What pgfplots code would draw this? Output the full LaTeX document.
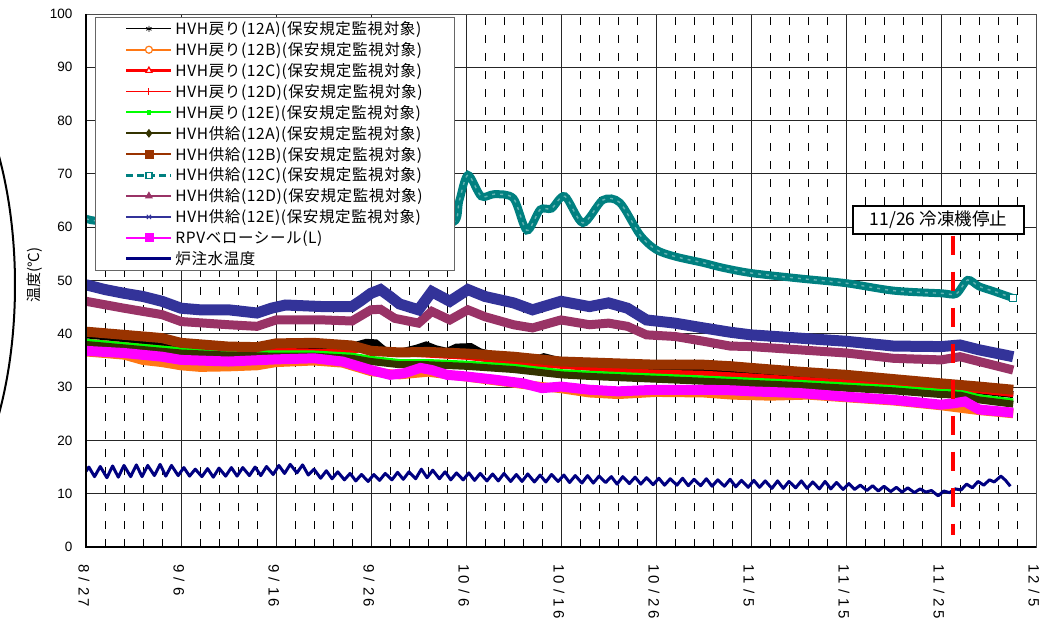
\documentclass[border=0pt]{standalone}
\usepackage{pgfplots}
\pgfplotsset{compat=1.18}
\usepackage{pgfplotstable}
\usepackage{fontspec}
\setmainfont{Liberation Sans}
\newfontfamily\cjk{Noto Sans CJK JP}
\newfontfamily\cjkleg[LetterSpace=4]{Noto Sans CJK JP}

\definecolor{cOrange}{RGB}{255,120,20}
\definecolor{cGreen}{RGB}{0,255,0}
\definecolor{cOlive}{RGB}{51,51,0}
\definecolor{cBrown}{RGB}{153,51,0}
\definecolor{cTeal}{RGB}{0,128,128}
\definecolor{cPlum}{RGB}{153,51,102}
\definecolor{cBlue}{RGB}{51,51,153}
\definecolor{cPink}{RGB}{255,0,255}
\definecolor{cNavy}{RGB}{0,0,128}

% date labels: every character in a box of the same width
\makeatletter
\def\spc#1{\spc@#1\@nil}
\def\spc@#1{\ifx#1\@nil\else\makebox[11.5bp]{#1}\expandafter\spc@\fi}
\makeatother

\newcommand\legline[3]{\draw[#1] (0bp,0bp) -- (45bp,0bp);
  \draw[solid,line width=0.8bp,#2] plot[only marks,mark=#3] coordinates {(22.5bp,0bp)};}

% HVH供給(12C)
\pgfplotstableread{
d v
0 61.6
1 61.2
5 60.5
10 60.0
15 60.2
20 61.0
25 61.2
30 62.0
35 61.8
38.7 61.0
39.3 65.0
40.2 69.8
41.6 65.8
43 66.2
45 65.4
46.4 59.4
47.8 63.3
49 63.5
50.4 65.8
52.3 60.8
54.4 65.1
56.2 64.6
58.3 58.6
60 55.8
62 54.5
65 53.3
67 52.4
70 51.4
75 50.4
80 49.5
85 48.1
90 47.6
91.6 47.5
92.8 50.1
94 48.9
95.5 48.0
97.6 46.7
}\tealdata

\begin{document}
\begin{tikzpicture}
\begin{axis}[
    at={(0,0)}, anchor=south west,
    scale only axis, width=950bp, height=533bp,
    xmin=0, xmax=100, ymin=0, ymax=100,
    xtick={0,10,...,100},
    xticklabels={\spc{8/27},\spc{9/6},\spc{9/16},\spc{9/26},\spc{10/6},\spc{10/16},\spc{10/26},\spc{11/5},\spc{11/15},\spc{11/25},\spc{12/5}},
    minor x tick num=4,
    ytick={0,10,...,100},
    grid=both,
    major grid style={black!85, line width=0.8bp},
    minor grid style={black, line width=0.8bp, dash pattern=on 8bp off 10bp},
    major tick length=0pt, minor tick length=0pt,
    axis line style={black!70, line width=0.8bp},
    /pgf/number format/assume math mode=true,
    yticklabel style={font=\fontsize{13.5bp}{15bp}\selectfont, xshift=-10bp},
    xticklabel style={font=\fontsize{15bp}{17bp}\selectfont, rotate=-90, anchor=west, xshift=12bp, yshift=-2bp},
    ylabel={温度(°C)},
    ylabel style={font=\cjk\fontsize{15bp}{17bp}\selectfont, at={(axis description cs:-0.054,0.51)}, anchor=center},
    legend style={at={(axis description cs:0.0095,0.9944)}, anchor=north west,
        draw=black!60, line width=0.8bp, fill=white,
        font=\cjkleg\fontsize{15.5bp}{18bp}\selectfont,
        inner xsep=29.5bp, inner ysep=1bp, row sep=0pt,
        nodes={inner xsep=2.5bp, inner ysep=0bp, minimum height=20.9bp}},
    legend cell align=left,
]
% HVH戻り(12A)
\addplot[black, line width=7bp,
    legend image code/.code={\legline{black,line width=1bp}{black,mark size=3bp}{asterisk}}]
  coordinates {(0,39.8) (5,38.9) (10,37.8) (15,37.2) (20,37.6) (24,37.7) (27,37.3) (28.5,37.9) (29.5,38.4) (30.5,38.3) (31.5,36.8) (33,36.5) (34.8,37.3) (35.8,37.9) (36.8,37.2) (38,36.7) (39,37.5) (40.5,37.6) (41.5,36.6) (44,35.6) (47,35.0) (48.2,35.7) (49.5,35.1) (52,34.3) (56,33.9) (60,33.5) (65,33.4) (70,32.8) (75,32.1) (80,31.5) (85,30.7) (90,29.9) (94,29.3) (97.6,28.6)};
\addlegendentry{HVH戻り(12A)(保安規定監視対象)}
% HVH戻り(12B)
\addplot[cOrange, line width=9bp,
    legend image code/.code={\legline{cOrange,line width=2bp}{draw=cOrange,fill=white,line width=1.2bp,mark size=3.5bp}{*}}]
  coordinates {(0,36.6) (4,36.0) (6,35.0) (8,34.6) (10,34.0) (12,33.7) (15,33.8) (18,34.0) (20,34.6) (24,34.9) (27,34.5) (30,32.9) (33,32.3) (36,32.8) (40,31.9) (46,30.5) (50,29.7) (53,28.9) (56,28.6) (60,29.0) (65,28.9) (68,28.5) (72,28.3) (76,28.5) (80,28.0) (85,27.4) (90,26.5) (94,25.6) (97.6,25.0)};
\addlegendentry{HVH戻り(12B)(保安規定監視対象)}
% HVH戻り(12C)
\addplot[red, line width=5bp,
    legend image code/.code={\legline{red,line width=3bp}{draw=red,fill=white,line width=1.2bp,mark size=3.5bp}{triangle*}}]
  coordinates {(0,38.6) (10,37.0) (20,36.9) (28,36.6) (29.5,37.4) (31,36.5) (35,36.1) (40,35.6) (45,34.6) (50,33.9) (55,33.3) (60,32.8) (65,32.6) (70,32.1) (75,31.5) (80,31.0) (85,30.5) (90,30.0) (94,29.3) (97.6,28.6)};
\addlegendentry{HVH戻り(12C)(保安規定監視対象)}
% HVH戻り(12D)
\addplot[red, line width=2bp,
    legend image code/.code={\legline{red,line width=1.2bp}{red,line width=1bp,mark size=3.5bp}{+}}]
  coordinates {(0,38.4) (10,36.8) (20,36.7) (28,36.4) (29.5,37.2) (31,36.3) (35,35.9) (40,35.4) (45,34.4) (50,33.7) (55,33.1) (60,32.6) (65,32.4) (70,31.9) (75,31.3) (80,30.8) (85,30.3) (90,29.8) (94,29.1) (97.6,28.4)};
\addlegendentry{HVH戻り(12D)(保安規定監視対象)}
% HVH戻り(12E)
\addplot[cGreen, line width=5bp,
    legend image code/.code={\legline{cGreen,line width=2bp}{cGreen,mark size=1.8bp}{square*}}]
  coordinates {(0,38.6) (5,37.8) (10,37.0) (15,36.6) (20,36.4) (24,36.4) (28,36.0) (30,35.4) (33,34.8) (36,34.8) (40,34.5) (45,33.9) (50,32.9) (53,32.6) (57,32.3) (61,32.0) (65,31.7) (70,31.3) (75,30.9) (80,30.4) (85,29.9) (90,29.2) (92,29.1) (94,28.2) (97.6,27.4)};
\addlegendentry{HVH戻り(12E)(保安規定監視対象)}
% HVH供給(12A)
\addplot[cOlive, line width=7bp,
    legend image code/.code={\legline{cOlive,line width=2bp}{cOlive,mark size=3.8bp}{diamond*}}]
  coordinates {(0,38.0) (5,37.2) (10,36.4) (15,36.0) (20,35.8) (24,35.8) (28,35.4) (30,34.8) (33,34.2) (36,34.2) (40,33.9) (45,33.3) (50,32.3) (53,32.0) (57,31.7) (61,31.4) (65,31.1) (70,30.7) (75,30.3) (80,29.8) (85,29.3) (90,28.6) (92,28.5) (94,27.6) (97.6,26.8)};
\addlegendentry{HVH供給(12A)(保安規定監視対象)}
% HVH供給(12B)
\addplot[cBrown, line width=10bp,
    legend image code/.code={\legline{cBrown,line width=2bp}{cBrown,mark size=4bp}{square*}}]
  coordinates {(0,40.4) (4,39.8) (8,39.2) (10,38.3) (15,37.6) (18,37.5) (20,38.2) (24,38.3) (28,37.8) (30,36.8) (33,36.5) (36,36.6) (40,36.3) (45,35.7) (50,34.8) (55,34.5) (60,34.2) (65,34.2) (68,33.9) (70,33.6) (75,32.9) (80,32.3) (85,31.5) (90,30.7) (94,30.1) (97.6,29.5)};
\addlegendentry{HVH供給(12B)(保安規定監視対象)}
% HVH供給(12C)
\addplot[cTeal, line width=8bp, smooth, tension=0.5,
    legend image code/.code={\legline{cTeal,line width=3bp,dash pattern=on 7bp off 4bp}{draw=cTeal,fill=white,line width=1.2bp,mark size=3bp}{square*}}]
  table[x=d, y=v] {\tealdata};
\addlegendentry{HVH供給(12C)(保安規定監視対象)}
\addplot[cTeal!60!white, line width=1.4bp, smooth, tension=0.5, dash pattern=on 3bp off 5bp, forget plot]
  table[x=d, y=v] {\tealdata};
\addplot[only marks, mark=square*, mark size=3.5bp, draw=cTeal, fill=white, line width=1.5bp, forget plot]
  coordinates {(97.6,46.7)};
% HVH供給(12D)
\addplot[cPlum, line width=9bp,
    legend image code/.code={\legline{cPlum,line width=2bp}{cPlum,mark size=3.8bp}{triangle*}}]
  coordinates {(0,46.1) (4,44.8) (8,43.6) (10,42.3) (15,41.7) (18,41.4) (20,42.6) (25,42.6) (28,42.4) (30,44.5) (31,44.6) (32.5,42.9) (35,42.0) (36.4,44.2) (38.3,42.6) (40.2,44.5) (42,43.2) (45,41.7) (47,41.1) (50,42.6) (53,41.7) (55,42.0) (57,41.4) (59,39.8) (62,39.5) (65,38.6) (67.8,37.7) (70,37.6) (75,37.0) (80,36.4) (85,35.4) (90,35.1) (92,35.7) (94,34.8) (97.6,33.2)};
\addlegendentry{HVH供給(12D)(保安規定監視対象)}
% HVH供給(12E)
\addplot[cBlue, line width=11bp,
    legend image code/.code={\legline{cBlue,line width=2bp}{cBlue,line width=1bp,mark size=3bp}{x}}]
  coordinates {(0,49.2) (2,48.3) (4,47.6) (6,47.0) (8,46.1) (10,44.8) (12,44.5) (15,44.5) (18,43.9) (19.5,44.8) (21,45.4) (25,45.1) (28,45.1) (29,46.3) (30,47.6) (31,48.3) (32,47.0) (33,45.6) (35,44.5) (36.4,47.9) (38.3,46.1) (40.2,48.3) (42,47.0) (45,45.8) (47,44.5) (50,46.1) (53,45.1) (55,45.8) (57,44.8) (59,42.6) (62,42.0) (65,41.1) (67.8,40.3) (70,39.8) (75,39.2) (80,38.6) (85,37.7) (90,37.6) (92,37.9) (94,37.0) (97.6,35.7)};
\addlegendentry{HVH供給(12E)(保安規定監視対象)}
% RPVベローシール(L)
\addplot[cPink, line width=10bp,
    legend image code/.code={\legline{cPink,line width=2bp}{cPink,mark size=4bp}{square*}}]
  coordinates {(0,36.8) (4,36.4) (8,35.7) (10,35.1) (15,34.8) (20,35.2) (24,35.4) (27,34.8) (30,33.2) (32,32.3) (33.5,32.6) (35.2,33.6) (36.4,33.2) (38,32.3) (40,32.0) (43,31.4) (46,30.7) (48,29.8) (50,30.1) (53,29.5) (56,29.2) (60,29.5) (65,29.5) (68,29.4) (70,29.2) (75,28.9) (80,28.2) (85,27.6) (90,26.7) (91.5,27.0) (92.5,27.3) (94,25.8) (97.6,25.2)};
\addlegendentry{RPVベローシール(L)}
% 炉注水温度
\addplot[cNavy, line width=3bp, line join=round,
    legend image code/.code={\draw[cNavy,line width=3bp] (0bp,0bp) -- (45bp,0bp);}]
  coordinates {
  (0,14.2) (0.3,15.0) (0.9,13.2) (1.5,15.1) (2.2,13.0) (2.8,15.2) (3.4,13.1) (4.0,15.3) (4.7,13.2) (5.3,15.4) (5.9,13.2) (6.5,15.3) (7.2,13.4) (7.8,15.5) (8.4,13.3) (9.0,15.3) (9.7,13.4)
  (10.3,14.9) (10.9,13.3) (11.5,14.6) (12.2,13.2) (12.8,14.7) (13.4,13.1) (14.0,14.8) (14.7,13.3) (15.3,14.9) (15.9,13.3) (16.5,14.9) (17.2,13.4) (17.8,15.0) (18.4,13.4) (19.0,15.1) (19.7,13.6)
  (20.3,15.3) (20.9,13.8) (21.5,15.5) (22.2,13.9) (22.8,15.4) (23.4,13.5) (24.0,14.6) (24.7,12.9) (25.3,14.3) (25.9,12.8) (26.5,14.1) (27.2,12.6) (27.8,13.8) (28.4,12.4) (29.0,13.6) (29.7,12.3)
  (30.3,13.6) (30.9,12.5) (31.5,13.8) (32.2,12.6) (32.8,14.0) (33.4,12.7) (34.0,14.1) (34.7,12.8) (35.3,14.6) (35.9,13.0) (36.5,14.4) (37.2,12.8) (37.8,14.1) (38.4,12.6) (39.0,13.9) (39.7,12.6)
  (40.3,13.9) (40.9,12.5) (41.5,13.8) (42.2,12.4) (42.8,13.7) (43.4,12.4) (44.0,13.8) (44.7,12.3) (45.3,13.6) (45.9,12.3) (46.5,13.7) (47.2,12.2) (47.8,13.5) (48.4,12.2) (49.0,13.6) (49.7,12.3)
  (50.3,13.5) (50.9,12.1) (51.5,13.4) (52.2,12.0) (52.8,13.4) (53.4,12.0) (54.0,13.3) (54.7,12.1) (55.3,13.2) (55.9,11.8) (56.5,13.2) (57.2,11.9) (57.8,13.1) (58.4,11.8) (59.0,13.0) (59.7,11.7)
  (60.3,12.9) (60.9,11.6) (61.5,12.8) (62.2,11.6) (62.8,12.9) (63.4,11.5) (64.0,12.7) (64.7,11.5) (65.3,12.8) (65.9,11.4) (66.5,12.6) (67.2,11.4) (67.8,12.7) (68.4,11.3) (69.0,12.5) (69.7,11.2)
  (70.3,12.5) (70.9,11.2) (71.5,12.4) (72.2,11.0) (72.8,12.4) (73.4,11.0) (74.0,12.3) (74.7,11.1) (75.3,12.4) (75.9,11.0) (76.5,12.2) (77.2,10.9) (77.8,12.3) (78.4,10.9) (79.0,12.1) (79.7,10.8)
  (80.3,11.9) (80.9,10.8) (81.5,11.6) (82.2,10.6) (82.8,11.5) (83.4,10.5) (84.0,11.4) (84.7,10.4) (85.3,11.2) (85.9,10.3) (86.5,11.1) (87.2,10.2) (87.8,10.9) (88.4,10.3) (89.0,10.6) (89.7,9.6)
  (90.3,10.5) (90.9,10.2) (91.5,10.9) (92.1,10.7) (92.7,11.8) (93.3,11.1) (93.9,12.3) (94.5,11.6) (95.1,12.6) (95.6,12.2) (96.3,13.3) (96.8,12.5) (97.3,11.4)};
\addlegendentry{炉注水温度}

% 冷凍機停止 marker and note
\draw[red, line width=4bp, dash pattern=on 19bp off 17bp] (axis cs:91.3,58.4) -- (axis cs:91.3,2.3);
\node[draw=black, line width=2bp, fill=white, inner xsep=17bp, inner ysep=0bp, minimum height=28bp,
      font=\cjk\fontsize{17.5bp}{20bp}\selectfont] at (axis cs:89.74,61.35) {11/26 冷凍機停止};
\end{axis}
% heavier left and bottom axis lines
\draw[black, line width=2bp] (0bp,533bp) -- (0bp,0bp) -- (950bp,0bp);
% part of a circled note at the far left
\draw[black, line width=2bp] (-186bp,262bp) ellipse [x radius=115bp, y radius=253bp];
\pgfresetboundingbox
\path[use as bounding box] (-86bp,-74bp) rectangle (971bp,547bp);
\end{tikzpicture}
\end{document}
